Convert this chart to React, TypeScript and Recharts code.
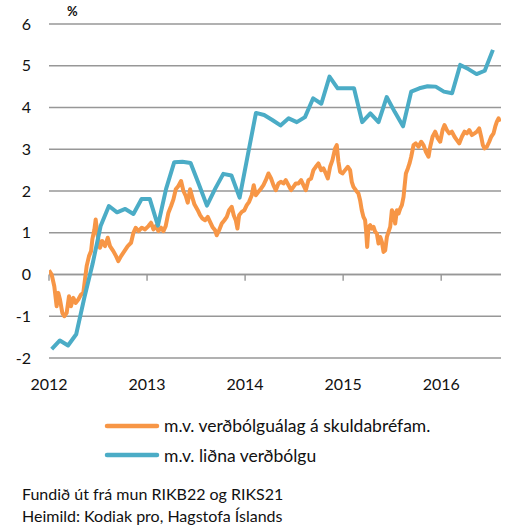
import React from "react";
import { LineChart, Line, XAxis, YAxis, CartesianGrid, ReferenceLine, Legend } from "recharts";

// Blue series: monthly values starting January 2012
const blueMonths: string[] = [
  "2012-01","2012-02","2012-03","2012-04","2012-05","2012-06","2012-07","2012-08","2012-09","2012-10","2012-11","2012-12",
  "2013-01","2013-02","2013-03","2013-04","2013-05","2013-06","2013-07","2013-08","2013-09","2013-10","2013-11","2013-12",
  "2014-01","2014-02","2014-03","2014-04","2014-05","2014-06","2014-07","2014-08","2014-09","2014-10","2014-11","2014-12",
  "2015-01","2015-02","2015-03","2015-04","2015-05","2015-06","2015-07","2015-08","2015-09","2015-10","2015-11","2015-12",
  "2016-01","2016-02","2016-03","2016-04","2016-05","2016-06","2016-07",
];
const blueValues: number[] = [
  -1.79, -1.58, -1.7, -1.43, -0.55, 0.25, 1.17, 1.64, 1.49, 1.57, 1.45, 1.81,
  1.81, 1.17, 2.05, 2.69, 2.7, 2.67, 2.17, 1.65, 2.05, 2.41, 2.37, 1.84,
  2.86, 3.87, 3.82, 3.7, 3.57, 3.74, 3.65, 3.77, 4.22, 4.09, 4.74, 4.46,
  4.46, 4.46, 3.65, 3.86, 3.65, 4.25, 3.89, 3.55, 4.38, 4.46, 4.51, 4.5,
  4.38, 4.34, 5.02, 4.92, 4.8, 4.88, 5.38,
];

// Orange series: dates as decimal years, and values
const orangeDates: number[] = [
  2012.0, 2012.027, 2012.054, 2012.078, 2012.095, 2012.112, 2012.136, 2012.156, 2012.18, 2012.204,
  2012.224, 2012.248, 2012.272, 2012.299, 2012.327, 2012.35, 2012.367, 2012.384, 2012.408, 2012.429,
  2012.442, 2012.463, 2012.476, 2012.497, 2012.52, 2012.544, 2012.571, 2012.599, 2012.622, 2012.656,
  2012.684, 2012.707, 2012.735, 2012.769, 2012.803, 2012.837, 2012.861, 2012.884, 2012.912, 2012.946,
  2012.98, 2013.014, 2013.041, 2013.065, 2013.088, 2013.116, 2013.143, 2013.167, 2013.19, 2013.218,
  2013.245, 2013.269, 2013.293, 2013.32, 2013.347, 2013.371, 2013.395, 2013.415, 2013.439, 2013.463,
  2013.483, 2013.517, 2013.541, 2013.565, 2013.592, 2013.619, 2013.643, 2013.667, 2013.694, 2013.711,
  2013.735, 2013.762, 2013.789, 2013.813, 2013.837, 2013.864, 2013.884, 2013.905, 2013.922, 2013.939,
  2013.966, 2013.993, 2014.017, 2014.041, 2014.068, 2014.088, 2014.109, 2014.136, 2014.163, 2014.187,
  2014.211, 2014.238, 2014.265, 2014.289, 2014.313, 2014.34, 2014.367, 2014.391, 2014.415, 2014.442,
  2014.469, 2014.493, 2014.517, 2014.544, 2014.571, 2014.595, 2014.619, 2014.646, 2014.673, 2014.697,
  2014.721, 2014.748, 2014.776, 2014.799, 2014.823, 2014.844, 2014.867, 2014.891, 2014.918, 2014.935,
  2014.952, 2014.969, 2014.993, 2015.02, 2015.048, 2015.071, 2015.088, 2015.105, 2015.129, 2015.156,
  2015.173, 2015.19, 2015.207, 2015.224, 2015.235, 2015.245, 2015.259, 2015.276, 2015.293, 2015.31,
  2015.327, 2015.344, 2015.361, 2015.378, 2015.395, 2015.412, 2015.429, 2015.446, 2015.463, 2015.48,
  2015.497, 2015.514, 2015.531, 2015.548, 2015.565, 2015.582, 2015.599, 2015.616, 2015.626, 2015.64,
  2015.66, 2015.677, 2015.694, 2015.718, 2015.741, 2015.769, 2015.796, 2015.82, 2015.844, 2015.871,
  2015.888, 2015.912, 2015.939, 2015.966, 2015.99, 2016.014, 2016.034, 2016.058, 2016.082, 2016.109,
  2016.136, 2016.16, 2016.184, 2016.211, 2016.238, 2016.262, 2016.286, 2016.313, 2016.34, 2016.364,
  2016.388, 2016.408, 2016.425, 2016.442, 2016.466, 2016.49, 2016.51, 2016.534, 2016.551, 2016.568,
  2016.585, 2016.6,
];
const orangeValues: number[] = [
  0.1, 0.0, -0.28, -0.76, -0.44, -0.6, -0.92, -1.0, -0.92, -0.52,
  -0.76, -0.56, -0.68, -0.6, -0.48, -0.44, -0.12, 0.2, 0.44, 0.56,
  0.84, 1.08, 1.32, 0.92, 0.64, 0.8, 0.68, 0.88, 0.68, 0.56,
  0.44, 0.32, 0.44, 0.56, 0.68, 0.76, 1.0, 1.12, 1.04, 1.12,
  1.08, 1.16, 1.24, 1.08, 1.16, 1.04, 1.12, 1.04, 1.16, 1.48,
  1.64, 1.8, 2.04, 2.12, 2.24, 2.0, 1.88, 1.72, 2.04, 1.84,
  1.68, 1.54, 1.42, 1.34, 1.3, 1.38, 1.26, 1.14, 1.06, 0.94,
  1.06, 1.22, 1.3, 1.38, 1.54, 1.62, 1.42, 1.3, 1.1, 1.42,
  1.5, 1.54, 1.66, 1.74, 1.9, 2.14, 1.9, 1.98, 2.06, 2.14,
  2.26, 2.42, 2.3, 2.14, 2.02, 2.18, 2.22, 2.18, 2.26, 2.14,
  2.02, 2.1, 2.18, 2.18, 2.26, 2.14, 2.02, 2.26, 2.3, 2.5,
  2.58, 2.66, 2.5, 2.54, 2.42, 2.3, 2.58, 2.74, 3.02, 3.1,
  2.7, 2.46, 2.42, 2.5, 2.58, 2.5, 2.22, 2.1, 2.02, 1.94,
  1.78, 1.54, 1.38, 1.3, 1.02, 0.66, 1.14, 1.18, 1.1, 1.14,
  1.02, 0.98, 0.74, 0.9, 0.78, 0.54, 0.58, 0.9, 1.02, 1.14,
  1.54, 1.46, 1.22, 1.54, 1.46, 1.58, 1.66, 1.86, 2.1, 2.42,
  2.54, 2.66, 2.82, 3.1, 3.14, 3.06, 3.18, 3.1, 2.94, 2.82,
  3.06, 3.3, 3.42, 3.26, 3.18, 3.46, 3.58, 3.46, 3.38, 3.42,
  3.3, 3.22, 3.14, 3.3, 3.42, 3.38, 3.46, 3.34, 3.38, 3.42,
  3.5, 3.3, 3.1, 3.02, 3.06, 3.18, 3.3, 3.38, 3.54, 3.66,
  3.74, 3.66,
];

const yearTicks: number[] = [2012, 2013, 2014, 2015, 2016];
const valueTicks: number[] = [-2, -1, 0, 1, 2, 3, 4, 5, 6];

const orangeName = "m.v. verðbólguálag á skuldabréfam.";
const blueName = "m.v. liðna verðbólgu";
const unitLabel = "%";
const footLines: string[] = ["Fundið út frá mun RIKB22 og RIKS21", "Heimild: Kodiak pro, Hagstofa Íslands"];

const ORANGE = "#F79646";
const BLUE = "#4BACC6";
const GRID = "#979797";
const TEXT = "#111";
const FONT = "Lato, 'Open Sans', sans-serif";

function monthToYear(m: string): number {
  const [y, mo] = m.split("-").map(Number);
  return y + (mo - 1 + 0.33) / 12;
}

const blueData = blueMonths.map((m, i) => ({ t: monthToYear(m), v: blueValues[i] }));
const orangeData = orangeDates.map((t, i) => ({ t, v: orangeValues[i] }));

const legendItems = [
  { name: orangeName, color: ORANGE },
  { name: blueName, color: BLUE },
];

function renderLegend() {
  return (
    <div style={{ fontFamily: FONT, fontSize: 17.5, color: TEXT }}>
      {legendItems.map((it) => (
        <div key={it.name} style={{ display: "flex", alignItems: "center", height: 29.5, paddingLeft: 104 }}>
          <svg width={56} height={8} style={{ display: "block" }}>
            <line x1={3} y1={4} x2={53} y2={4} stroke={it.color} strokeWidth={4.5} strokeLinecap="round" />
          </svg>
          <span style={{ marginLeft: 4, whiteSpace: "nowrap" }}>{it.name}</span>
        </div>
      ))}
    </div>
  );
}

export default function App() {
  return (
    <div style={{ position: "absolute", left: 0, top: 0, width: 507, height: 526, background: "#fff", fontFamily: FONT }}>
      <LineChart width={507} height={526} margin={{ top: 24, right: 6, left: 0, bottom: 79 }}>
        <CartesianGrid horizontal vertical={false} stroke={GRID} strokeWidth={1.4} />
        <XAxis
          type="number"
          dataKey="t"
          domain={[2012, 2016.61]}
          ticks={yearTicks}
          allowDataOverflow
          axisLine={false}
          tickLine={false}
          tickMargin={15}
          height={30}
          tick={{ fill: TEXT, fontSize: 16, fontFamily: FONT }}
        />
        <YAxis
          type="number"
          domain={[-2, 6]}
          ticks={valueTicks}
          axisLine={false}
          tickLine={false}
          width={49}
          tickMargin={12}
          tick={{ fill: TEXT, fontSize: 16, fontFamily: FONT }}
        />
        <ReferenceLine y={0} stroke={GRID} strokeWidth={1.6} />
        {yearTicks.map((yr) => (
          <ReferenceLine
            key={yr}
            segment={[{ x: yr, y: 0 }, { x: yr, y: -0.15 }]}
            stroke={GRID}
            strokeWidth={1.4}
          />
        ))}
        <Line
          data={orangeData}
          dataKey="v"
          name={orangeName}
          stroke={ORANGE}
          strokeWidth={4}
          dot={false}
          strokeLinejoin="round"
          isAnimationActive={false}
        />
        <Line
          data={blueData}
          dataKey="v"
          name={blueName}
          stroke={BLUE}
          strokeWidth={4}
          dot={false}
          strokeLinejoin="round"
          isAnimationActive={false}
        />
        <Legend
          content={renderLegend}
          wrapperStyle={{ position: "absolute", left: 0, top: 411, width: 507 }}
        />
      </LineChart>
      <div style={{ position: "absolute", left: 67, top: 3, fontSize: 13, fontWeight: "bold", color: TEXT }}>{unitLabel}</div>
      <div style={{ position: "absolute", left: 22, top: 483, fontSize: 16, lineHeight: "22px", color: TEXT }}>
        {footLines.map((l) => (
          <div key={l} style={{ whiteSpace: "nowrap" }}>{l}</div>
        ))}
      </div>
    </div>
  );
}
